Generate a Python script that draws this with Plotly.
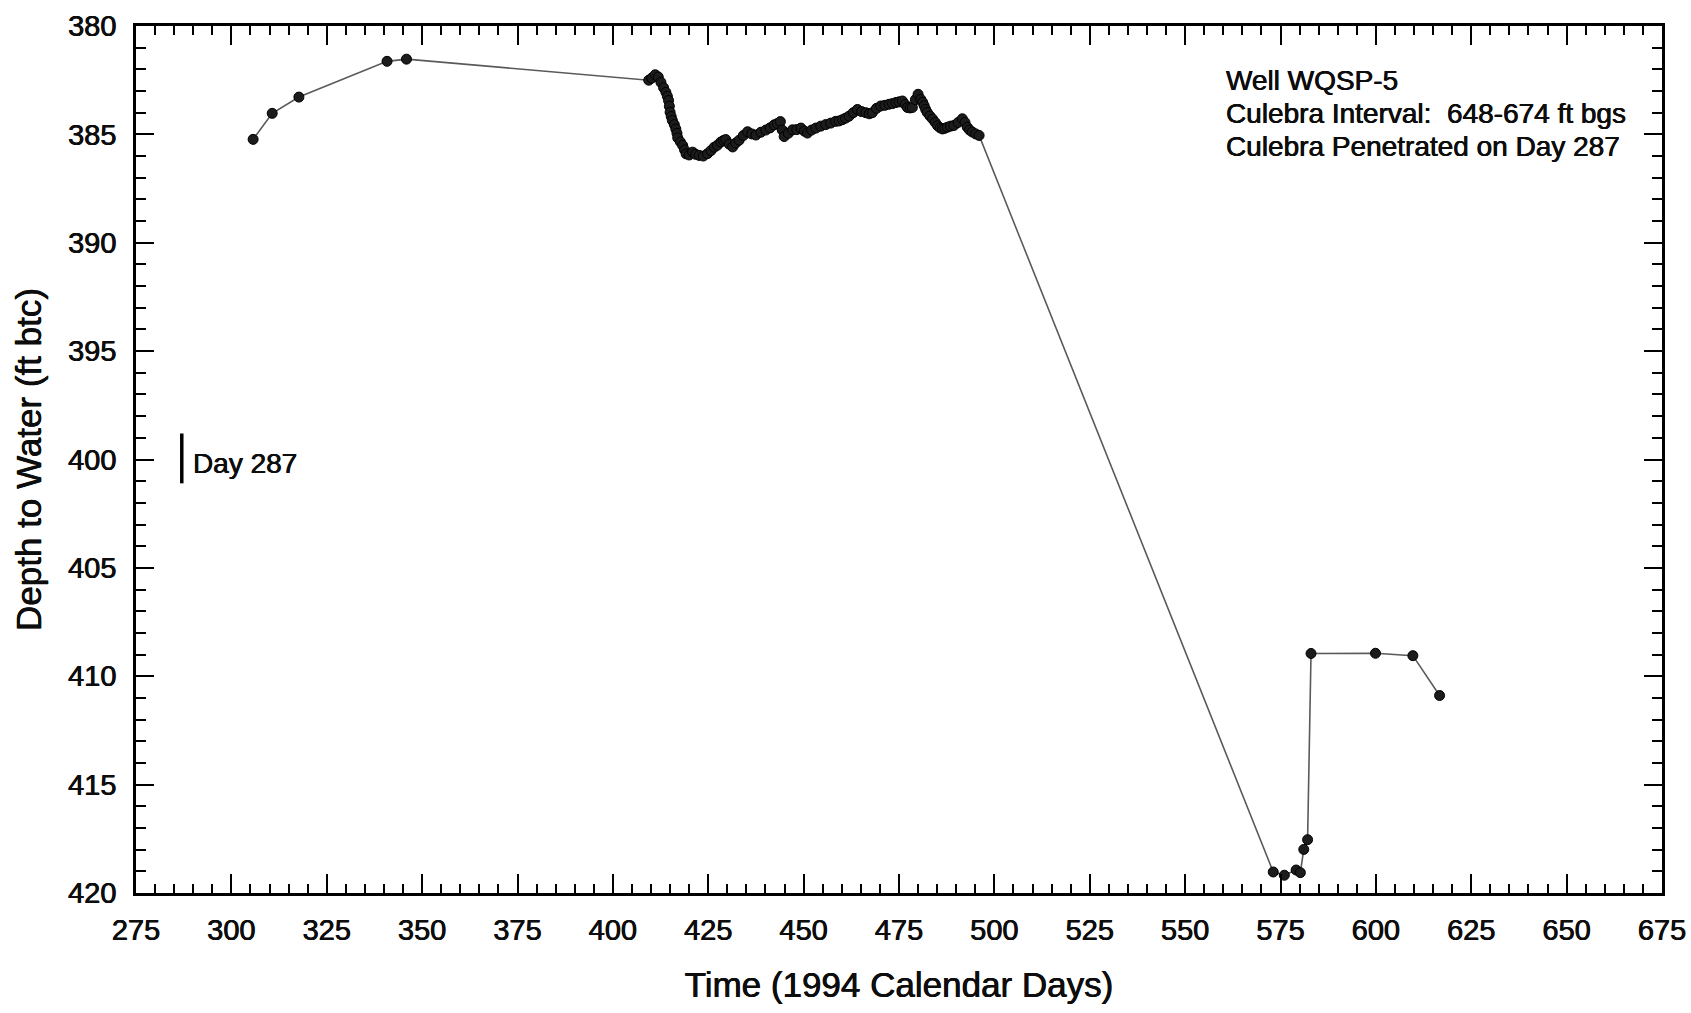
import plotly.graph_objects as go

# Time in 1994 calendar days and depth to water (ft btc)
days = [305.7, 310.7, 317.7, 340.8, 345.9,
        409.4, 410.2, 411.1, 411.9, 412.6, 413.3, 413.9, 414.3, 414.6, 414.8,
        415.0, 415.3, 415.6, 416.1, 416.5, 416.8, 417.0, 417.7, 418.3, 418.8,
        419.2, 420.0, 420.9, 421.7, 422.6, 423.7, 424.8, 425.7, 426.6, 427.4,
        428.3, 429.0, 429.6, 430.5, 431.4, 432.2, 433.1, 434.2, 435.3, 436.4,
        437.5, 438.8, 440.1, 441.2, 442.3, 443.1, 443.9, 444.4, 444.9, 446.0,
        447.1, 448.2, 449.3, 450.2, 451.0, 452.1, 453.2, 454.5, 455.8, 457.1,
        458.4, 459.3, 460.2, 461.0, 461.9, 463.0, 464.1, 465.2, 466.3, 467.2,
        468.0, 469.1, 470.2, 471.3, 472.4, 473.3, 474.2, 475.0, 475.9, 476.6,
        477.2, 477.9, 478.5, 479.3, 480.0, 480.7, 481.2, 481.6, 482.0, 482.4,
        483.1, 483.8, 484.5, 485.1, 485.8, 486.4, 487.0, 487.7, 488.5, 489.4,
        490.5, 491.6, 492.3, 492.9, 493.5, 494.2, 495.1, 496.0,
        573.1, 576.0, 579.1, 580.2, 581.1, 582.1, 583.0, 599.9, 609.7, 616.7]
depth = [385.23, 384.03, 383.28, 381.63, 381.53,
         382.50, 382.40, 382.25, 382.35, 382.60, 382.85, 383.06, 383.25, 383.44, 383.70,
         383.98, 384.18, 384.36, 384.55, 384.75, 384.95, 385.16, 385.35, 385.51, 385.72,
         385.90, 385.95, 385.82, 385.92, 385.97, 386.00, 385.89, 385.75, 385.59, 385.50,
         385.35, 385.28, 385.24, 385.45, 385.58, 385.40, 385.27, 385.05, 384.88, 384.98,
         385.03, 384.90, 384.80, 384.70, 384.56, 384.50, 384.41, 384.80, 385.10, 384.95,
         384.79, 384.78, 384.71, 384.85, 384.94, 384.80, 384.71, 384.62, 384.55, 384.48,
         384.40, 384.38, 384.32, 384.25, 384.16, 384.00, 383.85, 383.95, 384.00, 384.05,
         384.00, 383.80, 383.69, 383.66, 383.61, 383.58, 383.53, 383.50, 383.46, 383.62,
         383.76, 383.78, 383.76, 383.40, 383.15, 383.38, 383.52, 383.68, 383.85, 383.99,
         384.15, 384.29, 384.45, 384.60, 384.70, 384.75, 384.72, 384.67, 384.62, 384.59,
         384.45, 384.28, 384.45, 384.67, 384.80, 384.89, 384.98, 385.05,
         419.03, 419.18, 418.94, 419.06, 417.99, 417.54, 408.95, 408.94, 409.05, 410.89]

x_range = [275, 675]
y_range = [420, 380]
x_major = list(range(275, 676, 25))
y_major = list(range(380, 421, 5))

penetration_day = 287
penetration_bar = [398.8, 401.1]

info_lines = ["Well WQSP-5",
              "Culebra Interval:  648-674 ft bgs",
              "Culebra Penetrated on Day 287"]

FONT = "Liberation Sans, Arial, Helvetica, sans-serif"
INK = "#0d0d0d"
HEAVY = "0.35px 0 0 #0d0d0d, -0.35px 0 0 #0d0d0d"


def f(size):
    return dict(family=FONT, size=size, color=INK, shadow=HEAVY)


fig = go.Figure()
fig.add_trace(go.Scatter(
    x=days, y=depth, mode="lines+markers",
    line=dict(color="#5a5a5a", width=1.6),
    marker=dict(size=10, color="#1c1c1c", line=dict(color="#000000", width=1)),
    showlegend=False, hoverinfo="x+y"))

fig.add_shape(type="line", xref="x", yref="y",
              x0=penetration_day, x1=penetration_day,
              y0=penetration_bar[0], y1=penetration_bar[1],
              line=dict(color="#000000", width=3.5))
fig.add_annotation(x=penetration_day + 2.4, y=sum(penetration_bar) / 2 + 0.25,
                   xref="x", yref="y", text="Day 287", showarrow=False,
                   xanchor="left", yanchor="middle", font=f(28))

for i, t in enumerate(info_lines):
    fig.add_annotation(x=560.2, y=382.52 + i * 1.52, xref="x", yref="y",
                       text=t, showarrow=False, xanchor="left", yanchor="middle",
                       font=f(28))

axis_common = dict(
    showline=True, linecolor="#000000", linewidth=2.5, mirror="ticks",
    ticks="inside", tickcolor="#000000", tickwidth=2,
    showgrid=False, zeroline=False,
    tickfont=f(29),
)

fig.update_xaxes(range=x_range, tickvals=x_major, ticklen=19,
                 minor=dict(dtick=5, tick0=275, ticks="inside", ticklen=9,
                            tickwidth=1.8, tickcolor="#000000", showgrid=False),
                 ticklabelstandoff=9,
                 title=dict(text="Time (1994 Calendar Days)", font=f(35), standoff=28),
                 **axis_common)
fig.update_yaxes(range=y_range, tickvals=y_major, ticklen=18,
                 minor=dict(dtick=1, tick0=380, ticks="inside", ticklen=10,
                            tickwidth=1.8, tickcolor="#000000", showgrid=False),
                 ticklabelstandoff=11,
                 title=dict(text="Depth to Water (ft btc)", font=f(35), standoff=16),
                 **axis_common)

fig.update_layout(width=1691, height=1013,
                  margin=dict(l=136, r=29, t=26, b=120, autoexpand=False),
                  paper_bgcolor="white", plot_bgcolor="white",
                  font=dict(family=FONT, color=INK))

fig.write_html("out.html")
